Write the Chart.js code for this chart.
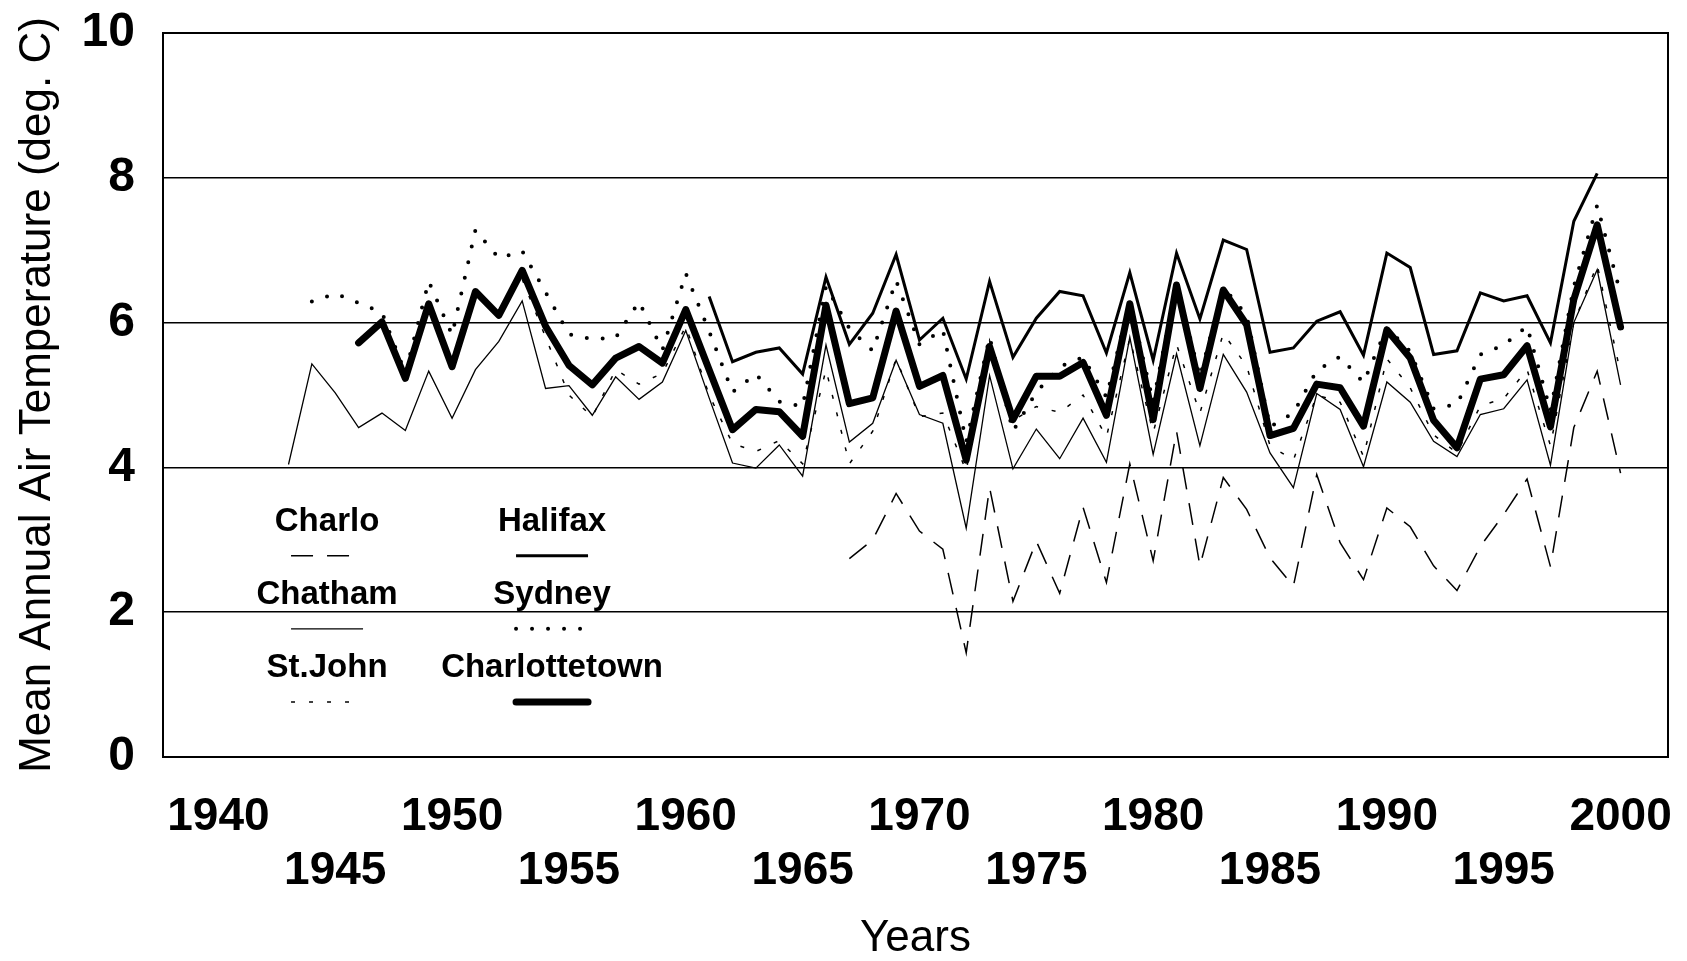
<!DOCTYPE html>
<html>
<head>
<meta charset="utf-8">
<title>Mean Annual Air Temperature</title>
<script src="https://cdn.jsdelivr.net/npm/chart.js@4.4.1/dist/chart.umd.min.js"></script>
<style>
  html, body { margin: 0; padding: 0; background: #fff; }
  #wrap { width: 1687px; height: 961px; }
</style>
</head>
<body>
<div id="wrap"><canvas id="tempCanvas" width="1687" height="961"></canvas></div>
<script>
// yearly means, one entry per year 1943..2000 (null = no record)
var years = [1943, 1944, 1945, 1946, 1947, 1948, 1949, 1950, 1951, 1952,
             1953, 1954, 1955, 1956, 1957, 1958, 1959, 1960, 1961, 1962,
             1963, 1964, 1965, 1966, 1967, 1968, 1969, 1970, 1971, 1972,
             1973, 1974, 1975, 1976, 1977, 1978, 1979, 1980, 1981, 1982,
             1983, 1984, 1985, 1986, 1987, 1988, 1989, 1990, 1991, 1992,
             1993, 1994, 1995, 1996, 1997, 1998, 1999, 2000];

var charlo = [null, null, null, null, null, null, null, null, null, null,
              null, null, null, null, null, null, null, null, null, null,
              null, null, null, null, 2.74, 3.00, 3.64, 3.12, 2.87, 1.44,
              3.72, 2.15, 2.98, 2.26, 3.45, 2.41, 4.05, 2.71, 4.50, 2.64,
              3.86, 3.42, 2.75, 2.36, 3.90, 2.96, 2.45, 3.44, 3.18, 2.64,
              2.30, 2.91, 3.35, 3.84, 2.63, 4.55, 5.33, 3.92];

var chatham = [4.04, 5.43, 5.03, 4.55, 4.75, 4.51, 5.33, 4.68, 5.35, 5.74,
               6.30, 5.09, 5.13, 4.72, 5.25, 4.94, 5.18, 5.89, 4.96, 4.06,
               3.99, 4.31, 3.88, 5.69, 4.35, 4.61, 5.48, 4.73, 4.61, 3.16,
               5.27, 3.98, 4.53, 4.12, 4.68, 4.07, 5.80, 4.18, 5.57, 4.30,
               5.56, 5.04, 4.20, 3.72, 5.02, 4.80, 4.01, 5.18, 4.90, 4.36,
               4.15, 4.73, 4.81, 5.21, 4.03, 6.00, 6.73, 5.14];

var stJohn = [null, null, null, null, null, null, null, null, null, null,
              6.60, 5.80, 5.00, 4.70, 5.35, 5.15, 5.30, 5.95, 5.00, 4.33,
              4.22, 4.37, 4.05, 5.35, 4.05, 4.50, 5.50, 4.70, 4.75, 3.95,
              5.75, 4.65, 4.84, 4.76, 5.00, 4.42, 5.78, 4.48, 5.70, 4.75,
              5.85, 5.40, 4.30, 4.10, 5.00, 4.90, 4.15, 5.50, 5.10, 4.45,
              4.20, 4.85, 4.95, 5.35, 4.30, 6.00, 6.80, 5.30];

var halifax = [null, null, null, null, null, null, null, null, null, null,
               null, null, null, null, null, null, null, null, 6.36, 5.46,
               5.59, 5.65, 5.29, 6.63, 5.70, 6.13, 6.94, 5.76, 6.06, 5.22,
               6.57, 5.52, 6.06, 6.43, 6.37, 5.58, 6.69, 5.48, 6.96, 6.05,
               7.14, 7.01, 5.59, 5.65, 6.02, 6.15, 5.55, 6.96, 6.76, 5.56,
               5.61, 6.41, 6.30, 6.37, 5.72, 7.40, 8.06, null];

var sydney = [null, 6.29, 6.40, 6.27, 6.14, 5.30, 6.57, 5.83, 7.28, 6.89,
              6.99, 6.42, 5.84, 5.77, 5.79, 6.29, 5.62, 6.68, 5.88, 5.04,
              5.29, 4.91, 4.84, 6.50, 5.92, 5.61, 6.58, 5.70, 5.90, 4.35,
              5.80, 4.50, 5.04, 5.39, 5.52, 4.97, 6.30, 4.90, 6.55, 5.25,
              6.49, 6.10, 4.56, 4.75, 5.34, 5.53, 5.17, 5.93, 5.60, 4.81,
              4.87, 5.56, 5.69, 5.95, 4.78, 6.50, 7.62, 6.40];

var charlottetown = [null, null, null, 5.72, 6.01, 5.23, 6.26, 5.39, 6.43, 6.10,
                     6.72, 5.95, 5.41, 5.14, 5.51, 5.67, 5.44, 6.18, 5.35, 4.52,
                     4.80, 4.77, 4.43, 6.24, 4.88, 4.96, 6.16, 5.12, 5.27, 4.10,
                     5.67, 4.66, 5.26, 5.26, 5.45, 4.72, 6.26, 4.66, 6.52, 5.09,
                     6.45, 5.97, 4.44, 4.54, 5.15, 5.10, 4.57, 5.90, 5.51, 4.65,
                     4.27, 5.22, 5.28, 5.68, 4.56, 6.32, 7.35, 5.94];

var yearTicks = [1940, 1945, 1950, 1955, 1960, 1965, 1970, 1975, 1980, 1985, 1990, 1995, 2000];
var tempTicks = [0, 2, 4, 6, 8, 10];

function toPoints(values) {
    var pts = [];
    for (var i in years) {
        pts.push({ x: years[i], y: values[i] });
    }
    return pts;
}

// station names with sample lines, drawn inside the plot (3 rows x 2 columns)
var stationLegend = {
    id: 'stationLegend',
    afterDatasetsDraw: function (chart) {
        var ctx = chart.ctx;
        var a = chart.chartArea;
        var w = a.right - a.left;
        var h = a.bottom - a.top;
        var cols = [0.109, 0.2585];
        var rows = [0.675, 0.776, 0.877];
        ctx.save();
        chart.data.datasets.forEach(function (ds, i) {
            var cx = a.left + w * cols[Math.floor(i / 3)];
            var ty = a.top + h * rows[i % 3];
            var ly = ty + h * 0.047;
            ctx.fillStyle = '#000';
            ctx.font = 'bold 33px "Liberation Sans", Arial, sans-serif';
            ctx.textAlign = 'center';
            ctx.textBaseline = 'middle';
            ctx.fillText(ds.label, cx, ty);
            ctx.beginPath();
            ctx.setLineDash(ds.borderDash || []);
            ctx.lineCap = ds.borderCapStyle || 'butt';
            ctx.lineWidth = ds.borderWidth;
            ctx.strokeStyle = ds.borderColor;
            ctx.moveTo(cx - 36, ly);
            ctx.lineTo(cx + 36, ly);
            ctx.stroke();
        });
        ctx.restore();
    }
};

// box round the plot
var plotFrame = {
    id: 'plotFrame',
    beforeDatasetsDraw: function (chart) {
        var ctx = chart.ctx;
        var a = chart.chartArea;
        ctx.save();
        ctx.lineWidth = 2;
        ctx.strokeStyle = '#000';
        ctx.strokeRect(a.left, a.top, a.right - a.left, a.bottom - a.top);
        ctx.restore();
    }
};

function showGraph() {
    var chartdata = {
        datasets: [
            {
                label: 'Charlo',
                data: toPoints(charlo),
                borderColor: '#000',
                borderWidth: 1.5,
                borderDash: [22, 14],
                order: 6
            },
            {
                label: 'Chatham',
                data: toPoints(chatham),
                borderColor: '#000',
                borderWidth: 1.3,
                order: 5
            },
            {
                label: 'St.John',
                data: toPoints(stJohn),
                borderColor: '#000',
                borderWidth: 1.5,
                borderDash: [4, 14],
                order: 4
            },
            {
                label: 'Halifax',
                data: toPoints(halifax),
                borderColor: '#000',
                borderWidth: 3,
                order: 3
            },
            {
                label: 'Sydney',
                data: toPoints(sydney),
                borderColor: '#000',
                borderWidth: 4,
                borderDash: [0, 16],
                borderCapStyle: 'round',
                order: 2
            },
            {
                label: 'Charlottetown',
                data: toPoints(charlottetown),
                borderColor: '#000',
                borderWidth: 7,
                borderCapStyle: 'round',
                borderJoinStyle: 'round',
                order: 1
            }
        ]
    };

    var graphTarget = document.getElementById('tempCanvas');

    var lineGraph = new Chart(graphTarget, {
        type: 'line',
        data: chartdata,
        plugins: [plotFrame, stationLegend],
        options: {
            responsive: false,
            animation: false,
            layout: { padding: { left: 0, top: 33, right: 19, bottom: 0 } },
            elements: {
                point: { radius: 0 },
                line: { tension: 0, fill: false }
            },
            plugins: {
                legend: { display: false },
                tooltip: { enabled: false }
            },
            scales: {
                x: {
                    type: 'linear',
                    min: 1937.63,
                    max: 2002.03,
                    afterFit: function (scale) {
                        scale.height = 204;
                        scale.paddingLeft = 0;
                        scale.paddingRight = 0;
                    },
                    afterBuildTicks: function (scale) {
                        scale.ticks = yearTicks.map(function (v) { return { value: v }; });
                    },
                    grid: { display: false, drawTicks: false },
                    border: { display: true, color: '#000', width: 2 },
                    ticks: {
                        color: '#000',
                        padding: 33,
                        maxRotation: 0,
                        autoSkip: false,
                        font: { family: '"Liberation Sans", Arial, sans-serif', size: 46, weight: 'bold', lineHeight: 1.18 },
                        callback: function (value) {
                            return value % 10 === 0 ? [String(value), ''] : ['', String(value)];
                        }
                    },
                    title: {
                        display: true,
                        text: 'Years',
                        color: '#000',
                        padding: { top: 0, bottom: 0 },
                        font: { family: '"Liberation Sans", Arial, sans-serif', size: 44, weight: 'normal', lineHeight: 1.0 }
                    }
                },
                y: {
                    min: 0,
                    max: 10,
                    afterFit: function (scale) {
                        scale.width = 163;
                        scale.paddingTop = 0;
                        scale.paddingBottom = 0;
                    },
                    afterBuildTicks: function (scale) {
                        scale.ticks = tempTicks.map(function (v) { return { value: v }; });
                    },
                    grid: { color: '#000', lineWidth: 1.5, drawTicks: false },
                    border: { display: true, color: '#000', width: 2 },
                    ticks: {
                        color: '#000',
                        padding: 28,
                        font: { family: '"Liberation Sans", Arial, sans-serif', size: 48, weight: 'bold' }
                    },
                    title: {
                        display: true,
                        text: 'Mean Annual Air Temperature (deg. C)',
                        color: '#000',
                        padding: { top: 14, bottom: 0 },
                        font: { family: '"Liberation Sans", Arial, sans-serif', size: 44, weight: 'normal', lineHeight: 1.1 }
                    }
                }
            }
        }
    });
}

showGraph();
</script>
</body>
</html>
